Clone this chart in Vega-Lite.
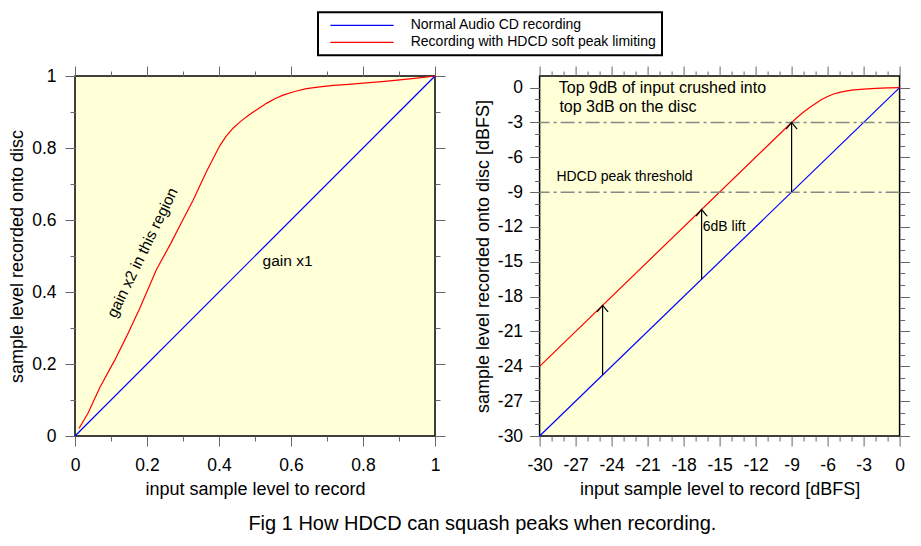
{
  "$schema": "https://vega.github.io/schema/vega-lite/v6.json",
  "padding": {"left": 7, "top": 11, "right": 5, "bottom": 5},
  "background": "white",
  "config": {
    "font": "Liberation Sans",
    "view": {"fill": "#ffffd8", "stroke": "#000000", "strokeWidth": 1.5},
    "axis": {"domain": false, "grid": false, "tickColor": "#666666", "tickWidth": 1, "labelFontSize": 17.5, "labelColor": "#000000", "titleFontSize": 18, "titleFontWeight": "normal", "titleColor": "#000000", "labelOverlap": false, "labelFlush": false, "labelBound": false},
    "legend": {"strokeWidth": 2}
  },
  "title": {"text": "Fig 1 How HDCD can squash peaks when recording.", "orient": "bottom", "fontSize": 20, "fontWeight": "normal", "color": "#000000", "anchor": "middle", "offset": 15, "dx": 23},
  "datasets": {
    "lin": [
      {"series": "Normal Audio CD recording", "x": 0, "y": 0},
      {"series": "Normal Audio CD recording", "x": 1, "y": 1},
      {"series": "Recording with HDCD soft peak limiting", "x": 0.011, "y": 0.021},
      {"series": "Recording with HDCD soft peak limiting", "x": 0.036, "y": 0.063},
      {"series": "Recording with HDCD soft peak limiting", "x": 0.069, "y": 0.135},
      {"series": "Recording with HDCD soft peak limiting", "x": 0.11, "y": 0.21},
      {"series": "Recording with HDCD soft peak limiting", "x": 0.143, "y": 0.276},
      {"series": "Recording with HDCD soft peak limiting", "x": 0.18, "y": 0.355},
      {"series": "Recording with HDCD soft peak limiting", "x": 0.226, "y": 0.462},
      {"series": "Recording with HDCD soft peak limiting", "x": 0.265, "y": 0.533},
      {"series": "Recording with HDCD soft peak limiting", "x": 0.298, "y": 0.597},
      {"series": "Recording with HDCD soft peak limiting", "x": 0.328, "y": 0.655},
      {"series": "Recording with HDCD soft peak limiting", "x": 0.365, "y": 0.734},
      {"series": "Recording with HDCD soft peak limiting", "x": 0.402, "y": 0.806},
      {"series": "Recording with HDCD soft peak limiting", "x": 0.42, "y": 0.833},
      {"series": "Recording with HDCD soft peak limiting", "x": 0.439, "y": 0.855},
      {"series": "Recording with HDCD soft peak limiting", "x": 0.46, "y": 0.874},
      {"series": "Recording with HDCD soft peak limiting", "x": 0.485, "y": 0.893},
      {"series": "Recording with HDCD soft peak limiting", "x": 0.51, "y": 0.91},
      {"series": "Recording with HDCD soft peak limiting", "x": 0.532, "y": 0.924},
      {"series": "Recording with HDCD soft peak limiting", "x": 0.555, "y": 0.937},
      {"series": "Recording with HDCD soft peak limiting", "x": 0.578, "y": 0.947},
      {"series": "Recording with HDCD soft peak limiting", "x": 0.61, "y": 0.957},
      {"series": "Recording with HDCD soft peak limiting", "x": 0.643, "y": 0.965},
      {"series": "Recording with HDCD soft peak limiting", "x": 0.68, "y": 0.97},
      {"series": "Recording with HDCD soft peak limiting", "x": 0.717, "y": 0.974},
      {"series": "Recording with HDCD soft peak limiting", "x": 0.76, "y": 0.977},
      {"series": "Recording with HDCD soft peak limiting", "x": 0.809, "y": 0.981},
      {"series": "Recording with HDCD soft peak limiting", "x": 0.86, "y": 0.985},
      {"series": "Recording with HDCD soft peak limiting", "x": 0.902, "y": 0.989},
      {"series": "Recording with HDCD soft peak limiting", "x": 0.95, "y": 0.994},
      {"series": "Recording with HDCD soft peak limiting", "x": 1, "y": 1}
    ],
    "db": [
      {"series": "Normal Audio CD recording", "x": -30, "y": -30},
      {"series": "Normal Audio CD recording", "x": 0, "y": 0},
      {"series": "Recording with HDCD soft peak limiting", "x": -30, "y": -24},
      {"series": "Recording with HDCD soft peak limiting", "x": -9, "y": -3},
      {"series": "Recording with HDCD soft peak limiting", "x": -8.5, "y": -2.53},
      {"series": "Recording with HDCD soft peak limiting", "x": -8, "y": -2.1},
      {"series": "Recording with HDCD soft peak limiting", "x": -7.5, "y": -1.72},
      {"series": "Recording with HDCD soft peak limiting", "x": -7, "y": -1.36},
      {"series": "Recording with HDCD soft peak limiting", "x": -6.5, "y": -1.03},
      {"series": "Recording with HDCD soft peak limiting", "x": -6, "y": -0.76},
      {"series": "Recording with HDCD soft peak limiting", "x": -5.5, "y": -0.55},
      {"series": "Recording with HDCD soft peak limiting", "x": -5, "y": -0.41},
      {"series": "Recording with HDCD soft peak limiting", "x": -4.5, "y": -0.3},
      {"series": "Recording with HDCD soft peak limiting", "x": -4, "y": -0.22},
      {"series": "Recording with HDCD soft peak limiting", "x": -3, "y": -0.13},
      {"series": "Recording with HDCD soft peak limiting", "x": -2, "y": -0.07},
      {"series": "Recording with HDCD soft peak limiting", "x": -1, "y": -0.03},
      {"series": "Recording with HDCD soft peak limiting", "x": 0, "y": 0}
    ]
  },
  "bounds": "flush",
  "spacing": 104.6,
  "hconcat": [
    {
      "width": 360,
      "height": 360,
      "resolve": {"axis": {"x": "independent", "y": "independent"}},
      "layer": [
        {
          "data": {"name": "lin"},
          "mark": {"type": "line", "strokeWidth": 1.2},
          "encoding": {
            "x": {"field": "x", "type": "quantitative", "scale": {"domain": [0, 1], "nice": false, "zero": false},
              "axis": {"orient": "bottom", "values": [0, 0.1, 0.2, 0.3, 0.4, 0.5, 0.6, 0.7, 0.8, 0.9, 1],
                "tickSize": {"condition": {"test": "round(datum.value*10)%2===0", "value": 10}, "value": 5},
                "labelExpr": "round(datum.value*10)%2===0 ? '' + datum.value : ''",
                "labelPadding": 10, "title": "input sample level to record", "titlePadding": 7}},
            "y": {"field": "y", "type": "quantitative", "scale": {"domain": [0, 1], "nice": false, "zero": false},
              "axis": {"orient": "left", "values": [0, 0.1, 0.2, 0.3, 0.4, 0.5, 0.6, 0.7, 0.8, 0.9, 1],
                "tickSize": {"condition": {"test": "round(datum.value*10)%2===0", "value": 10}, "value": 5},
                "labelExpr": "round(datum.value*10)%2===0 ? '' + datum.value : ''",
                "labelPadding": 9, "title": "sample level recorded onto disc", "titlePadding": 5}},
            "color": {"field": "series", "type": "nominal",
              "scale": {"domain": ["Normal Audio CD recording", "Recording with HDCD soft peak limiting"], "range": ["#0000ff", "#ff0000"]},
              "legend": {"orient": "none", "legendX": 243, "legendY": -63.7, "title": null, "direction": "vertical",
                "symbolType": "M-0.15,0L15.65,0", "symbolSize": 64, "symbolStrokeWidth": 1.2, "labelFontSize": 14, "labelColor": "#000000", "labelLimit": 0,
                "labelOffset": 72.7, "padding": 6, "strokeColor": "#000000", "rowPadding": 3}}
          }
        },
        {
          "data": {"values": [{"label": "gain x1", "x": 0.521, "y": 0.487}]},
          "mark": {"type": "text", "align": "left", "baseline": "middle", "fontSize": 15.5, "color": "#000000"},
          "encoding": {
            "text": {"field": "label"},
            "x": {"field": "x", "type": "quantitative",
              "axis": {"orient": "top", "values": [0, 0.1, 0.2, 0.3, 0.4, 0.5, 0.6, 0.7, 0.8, 0.9, 1],
                "tickSize": {"condition": {"test": "round(datum.value*10)%2===0", "value": 10}, "value": 5},
                "labels": false, "title": null}},
            "y": {"field": "y", "type": "quantitative",
              "axis": {"orient": "right", "values": [0, 0.1, 0.2, 0.3, 0.4, 0.5, 0.6, 0.7, 0.8, 0.9, 1],
                "tickSize": {"condition": {"test": "round(datum.value*10)%2===0", "value": 10}, "value": 5},
                "labels": false, "title": null}}
          }
        },
        {
          "data": {"values": [{"label": "gain x2 in this region", "x": 0.187, "y": 0.509}]},
          "mark": {"type": "text", "align": "center", "baseline": "middle", "fontSize": 15.5, "angle": 296, "color": "#000000"},
          "encoding": {
            "text": {"field": "label"},
            "x": {"field": "x", "type": "quantitative", "axis": null},
            "y": {"field": "y", "type": "quantitative", "axis": null}
          }
        }
      ]
    },
    {
      "width": 360,
      "height": 360,
      "resolve": {"axis": {"x": "independent", "y": "independent"}},
      "layer": [
        {
          "data": {"name": "db"},
          "mark": {"type": "line", "strokeWidth": 1.2},
          "encoding": {
            "x": {"field": "x", "type": "quantitative", "scale": {"domain": [-30, 0], "nice": false, "zero": false},
              "axis": {"orient": "bottom", "values": [-30,-29,-28,-27,-26,-25,-24,-23,-22,-21,-20,-19,-18,-17,-16,-15,-14,-13,-12,-11,-10,-9,-8,-7,-6,-5,-4,-3,-2,-1,0],
                "tickSize": {"condition": {"test": "datum.value%3===0", "value": 10}, "value": 5},
                "labelExpr": "datum.value%3===0 ? '' + datum.value : ''",
                "labelPadding": 10, "title": "input sample level to record [dBFS]", "titlePadding": 7}},
            "y": {"field": "y", "type": "quantitative", "scale": {"domain": [-30, 1], "nice": false, "zero": false},
              "axis": {"orient": "left", "values": [-30,-29,-28,-27,-26,-25,-24,-23,-22,-21,-20,-19,-18,-17,-16,-15,-14,-13,-12,-11,-10,-9,-8,-7,-6,-5,-4,-3,-2,-1,0],
                "tickSize": {"condition": {"test": "datum.value%3===0", "value": 10}, "value": 5},
                "labelExpr": "datum.value%3===0 ? '' + datum.value : ''",
                "labelPadding": 7, "title": "sample level recorded onto disc [dBFS]", "titlePadding": 5}},
            "color": {"field": "series", "type": "nominal"}
          }
        },
        {
          "data": {"values": [{"level": -3}, {"level": -9}]},
          "mark": {"type": "rule", "color": "#888888", "strokeWidth": 1.5, "strokeDash": [14, 4, 3, 4]},
          "encoding": {
            "y": {"field": "level", "type": "quantitative", "axis": null}
          }
        },
        {
          "data": {"values": [{"x": -24.75, "from": -24.75, "to": -18.75}, {"x": -16.5, "from": -16.5, "to": -10.5}, {"x": -9, "from": -9, "to": -3}]},
          "mark": {"type": "rule", "color": "#000000", "strokeWidth": 1.2},
          "encoding": {
            "x": {"field": "x", "type": "quantitative",
              "axis": {"orient": "top", "values": [-30,-29,-28,-27,-26,-25,-24,-23,-22,-21,-20,-19,-18,-17,-16,-15,-14,-13,-12,-11,-10,-9,-8,-7,-6,-5,-4,-3,-2,-1,0],
                "tickSize": {"condition": {"test": "datum.value%3===0", "value": 10}, "value": 5},
                "labels": false, "title": null}},
            "y": {"field": "from", "type": "quantitative",
              "axis": {"orient": "right", "values": [-30,-29,-28,-27,-26,-25,-24,-23,-22,-21,-20,-19,-18,-17,-16,-15,-14,-13,-12,-11,-10,-9,-8,-7,-6,-5,-4,-3,-2,-1,0],
                "tickSize": {"condition": {"test": "datum.value%3===0", "value": 10}, "value": 5},
                "labels": false, "title": null}},
            "y2": {"field": "to"}
          }
        },
        {
          "data": {"values": [{"x": -24.75, "to": -18.75}, {"x": -16.5, "to": -10.5}, {"x": -9, "to": -3}]},
          "mark": {"type": "point", "shape": "M-1,1.2L0,0L1,1.2", "filled": false, "size": 121, "stroke": "#000000", "strokeWidth": 1.2, "opacity": 1},
          "encoding": {
            "x": {"field": "x", "type": "quantitative", "axis": null},
            "y": {"field": "to", "type": "quantitative", "axis": null}
          }
        },
        {
          "data": {"values": [{"label": "Top 9dB of input crushed into", "x": -28.4, "y": 0.0}, {"label": "top 3dB on the disc", "x": -28.35, "y": -1.64}]},
          "mark": {"type": "text", "align": "left", "baseline": "middle", "fontSize": 16, "color": "#000000"},
          "encoding": {
            "text": {"field": "label"},
            "x": {"field": "x", "type": "quantitative", "axis": null},
            "y": {"field": "y", "type": "quantitative", "axis": null}
          }
        },
        {
          "data": {"values": [{"label": "HDCD peak threshold", "x": -28.6, "y": -7.7}, {"label": "6dB lift", "x": -16.4, "y": -12.0}]},
          "mark": {"type": "text", "align": "left", "baseline": "middle", "fontSize": 14, "color": "#000000"},
          "encoding": {
            "text": {"field": "label"},
            "x": {"field": "x", "type": "quantitative", "axis": null},
            "y": {"field": "y", "type": "quantitative", "axis": null}
          }
        }
      ]
    }
  ]
}
